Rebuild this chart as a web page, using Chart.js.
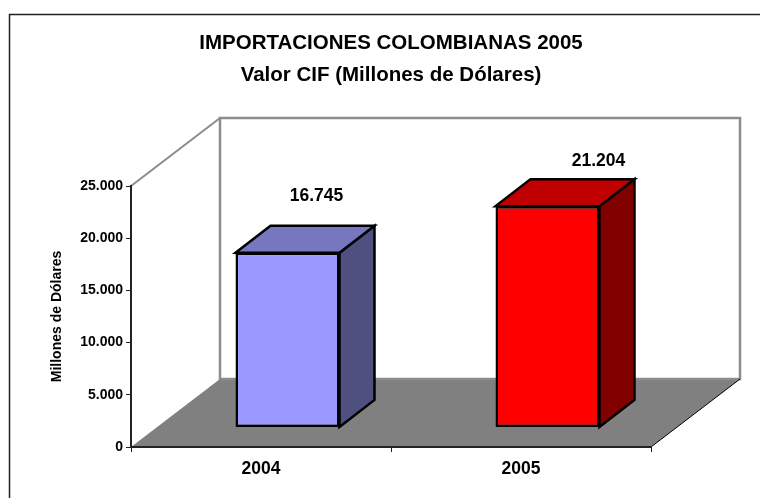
<!DOCTYPE html>
<html><head><meta charset="utf-8">
<style>html,body{margin:0;padding:0;background:#fff}canvas{display:block}</style>
<script src="https://cdn.jsdelivr.net/npm/chart.js@4"></script>
</head><body><canvas id="c" width="760" height="498"></canvas>
<script>
const categories = ['2004', '2005'];
const values = [16745, 21204];
const frontColors = ['#9999FF', '#FF0000'];
const topColors = ['#7777C0', '#C00000'];
const sideColors = ['#4F4F80', '#800000'];
const titleLines = ['IMPORTACIONES COLOMBIANAS 2005', 'Valor CIF (Millones de Dólares)'];
const yAxisTitle = 'Millones de Dólares';
const yMax = 25000, yStep = 5000;
const fmt = v => String(v).replace(/\B(?=(\d{3})+$)/g, '.');
const FONT = '"Liberation Sans"';

const wallDepth = {x: 89, y: 68};
const barShift = {x: 26.5, y: 19.5};
const barDepth = {x: 35, y: 27};
const labelOffsets = [{x: 29, y: -57}, {x: 51, y: -44.5}];

const poly = (ctx, pts) => { ctx.beginPath(); pts.forEach((p, i) => i ? ctx.lineTo(p[0], p[1]) : ctx.moveTo(p[0], p[1])); ctx.closePath(); };

const threeD = {
  id: 'threeD',
  afterLayout(chart) { chart.titleBlock.left = 22; chart.titleBlock.right = 760; },
  beforeDraw(chart) {
    const {ctx, chartArea: a} = chart;
    const d = wallDepth;
    ctx.save();
    ctx.fillStyle = '#fff'; ctx.fillRect(0, 0, chart.width, chart.height);
    ctx.strokeStyle = '#222'; ctx.lineWidth = 1.5;
    ctx.beginPath(); ctx.moveTo(9.5, 498); ctx.lineTo(9.5, 14.5); ctx.lineTo(760, 14.5); ctx.stroke();
    ctx.fillStyle = '#808080';
    poly(ctx, [[a.left, a.bottom], [a.left + d.x, a.bottom - d.y], [a.right + d.x, a.bottom - d.y], [a.right, a.bottom]]);
    ctx.fill();
    ctx.strokeStyle = '#8C8C8C'; ctx.lineWidth = 2.5;
    ctx.strokeRect(a.left + d.x, a.top - d.y, a.right - a.left, a.bottom - a.top);
    ctx.lineWidth = 2;
    ctx.beginPath(); ctx.moveTo(a.left, a.top); ctx.lineTo(a.left + d.x, a.top - d.y); ctx.stroke();
    ctx.strokeStyle = '#000'; ctx.lineWidth = 1;
    ctx.beginPath(); ctx.moveTo(a.right, a.bottom); ctx.lineTo(a.right + d.x, a.bottom - d.y); ctx.stroke();
    ctx.restore();
  },
  beforeDatasetsDraw(chart) {
    const ctx = chart.ctx;
    ctx.save();
    ctx.translate(barShift.x, barShift.y * -1);
    const dx = barDepth.x, dy = barDepth.y;
    chart.getDatasetMeta(0).data.forEach((b, i) => {
      const p = b.getProps(['x', 'y', 'base', 'width'], true);
      const L = p.x - p.width / 2, R = p.x + p.width / 2, T = p.y, B = p.base;
      ctx.lineWidth = 2.5; ctx.strokeStyle = '#000'; ctx.lineJoin = 'miter';
      ctx.fillStyle = sideColors[i];
      poly(ctx, [[R, T], [R + dx, T - dy], [R + dx, B - dy], [R, B]]); ctx.fill(); ctx.stroke();
      ctx.fillStyle = topColors[i];
      poly(ctx, [[L, T], [L + dx, T - dy], [R + dx, T - dy], [R, T]]); ctx.fill(); ctx.stroke();
    });
  },
  afterDatasetsDraw(chart) {
    const ctx = chart.ctx;
    ctx.restore();
    ctx.save();
    ctx.fillStyle = '#000'; ctx.textAlign = 'center'; ctx.textBaseline = 'middle';
    ctx.font = 'bold 17.5px ' + FONT;
    chart.getDatasetMeta(0).data.forEach((b, i) => {
      const p = b.getProps(['x', 'y'], true);
      ctx.fillText(fmt(values[i]), p.x + barShift.x + labelOffsets[i].x, p.y - barShift.y + labelOffsets[i].y);
    });
    ctx.restore();
  }
};

new Chart(document.getElementById('c'), {
  type: 'bar',
  data: { labels: categories, datasets: [{
    data: values, backgroundColor: frontColors, borderColor: '#000', borderWidth: 2.5, borderSkipped: false,
    categoryPercentage: 1, barPercentage: 0.4, clip: false
  }]},
  plugins: [threeD],
  options: {
    responsive: false, animation: false,
    layout: { padding: { left: 0, right: 109, top: 0, bottom: 0 } },
    plugins: {
      legend: { display: false }, tooltip: { enabled: false },
      title: { display: true, text: titleLines, color: '#000',
        font: { family: FONT, size: 20.5, weight: 'bold', lineHeight: 32 / 20.5 },
        padding: { top: 27, bottom: 95 } }
    },
    scales: {
      x: {
        afterFit(s) { s.height = 51; },
        border: { color: '#222', width: 2 },
        grid: { offset: true, drawOnChartArea: false, tickLength: 5, color: '#222', tickWidth: 1 },
        ticks: { color: '#000', padding: 7, maxRotation: 0, font: { family: FONT, size: 17.5, weight: 'bold' } }
      },
      y: {
        min: 0, max: yMax,
        afterFit(s) { s.width = 131; },
        border: { color: '#222', width: 2 },
        grid: { drawOnChartArea: false, tickLength: 5, color: '#222', tickWidth: 1 },
        ticks: { stepSize: yStep, color: '#000', padding: 3, callback: v => fmt(v), font: { family: FONT, size: 14, weight: 'bold' } },
        title: { display: true, text: yAxisTitle, color: '#000', padding: { top: 48.6, bottom: 0 }, font: { family: FONT, size: 14, weight: 'bold' } }
      }
    }
  }
});
</script></body></html>
